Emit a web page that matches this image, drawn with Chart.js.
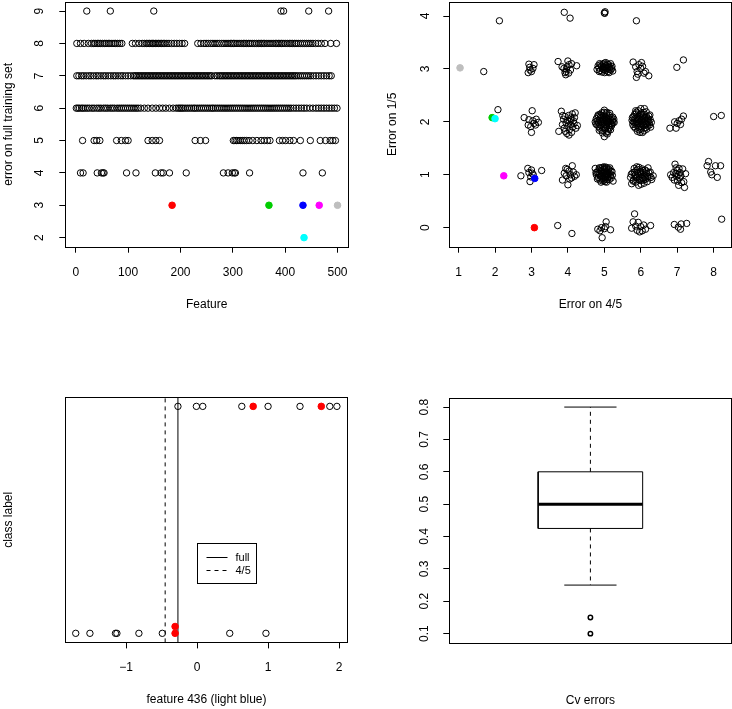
<!DOCTYPE html>
<html>
<head>
<meta charset="utf-8">
<script src="https://cdn.jsdelivr.net/npm/chart.js@4.4.1/dist/chart.umd.min.js"></script>
<style>
  html, body { margin: 0; padding: 0; background: #fff; }
  #wrap { position: relative; width: 732px; height: 709px; }
  canvas { position: absolute; }
</style>
</head>
<body>
<div id="wrap">
  <canvas id="p1" width="366" height="354" style="left:0;top:0"></canvas>
  <canvas id="p2" width="366" height="354" style="left:366px;top:0"></canvas>
  <canvas id="p3" width="366" height="355" style="left:0;top:354px"></canvas>
  <canvas id="p4" width="366" height="355" style="left:366px;top:354px"></canvas>
</div>
<script>
// ---- panel 1: error on full training set, features grouped by error level
const row9 = [21, 66, 149, 392, 397, 445, 483];
const row8 = [2, 9, 16, 24, 30, 34, 37, 41, 44, 47, 51, 55, 58, 62, 65, 69, 73, 76, 80, 84, 88,
  108, 114, 121, 127, 131, 135, 138, 141, 144, 147, 149, 152, 155, 158, 161, 164, 167, 170, 174, 178, 183, 188, 193, 198, 203, 208,
  233, 239, 245, 249, 253, 258, 262, 266, 270, 274, 279, 283, 287, 291, 295, 298, 301, 304, 308, 312, 316, 320, 323, 326, 330,
  333, 337, 341, 345, 349, 352, 355, 358, 361, 365, 369, 373, 377, 381, 384, 387, 390, 393, 396, 400, 404, 408, 411, 414, 418,
  421, 425, 429, 433, 437, 441, 445, 449, 453, 458, 463, 469, 476, 487, 498];
const row7 = [2, 6, 11, 15, 20, 25, 29, 34, 39, 43, 48, 53, 57, 62, 67, 72, 76, 81, 86, 90, 95, 100, 105, 110,
  113, 116, 119, 122, 125, 128, 131, 134, 137, 140, 143, 146, 149, 152, 155, 158, 161, 164, 167, 170, 173, 176, 179, 182,
  185, 188, 191, 194, 197, 200, 203, 206, 209, 212, 215, 218, 221, 224, 227, 230, 233, 236, 239, 242, 245, 248, 251, 254,
  257, 260, 266, 270, 274, 277, 280, 283, 286, 289, 292, 295, 298, 301, 304, 307, 310, 313, 316, 319, 322, 325, 328, 331,
  334, 337, 340, 343, 346, 349, 352, 355, 358, 361, 364, 367, 370, 373, 376, 379, 382, 385, 388, 391, 394, 397, 400, 403,
  406, 409, 412, 415, 418, 421, 425, 429, 433, 437, 441, 445, 449, 454, 459, 464, 469, 474, 479, 484, 488];
const row6 = [1, 4, 7, 11, 14, 18, 22, 26, 31, 35, 40, 44, 48, 53, 57, 61, 66, 70, 74, 79, 83, 87, 91, 95, 99, 103, 107,
  111, 115, 119, 124, 131, 138, 146, 153, 160, 166, 172, 179, 186, 192, 196, 199, 202, 205, 209, 213, 217, 221, 225, 228,
  232, 236, 240, 244, 248, 252, 256, 260, 263, 267, 271, 275, 279, 283, 287, 291, 295, 299, 303, 307, 311, 315, 319, 323,
  327, 331, 335, 339, 343, 347, 351, 355, 359, 363, 367, 371, 375, 379, 383, 387, 391, 395, 399, 403, 407, 411, 416, 421,
  426, 431, 436, 441, 447, 453, 459, 464, 469, 474, 479, 484, 489, 494, 499];
const row5 = [13, 35, 40, 46, 78, 87, 95, 100, 138, 146, 153, 160, 228, 238, 248,
  301, 304, 307, 310, 314, 318, 322, 326, 331, 338, 346, 354, 360, 366, 371, 389, 395, 401, 409, 416, 429, 448, 467, 477, 486, 491, 496];
const row4 = [9, 14, 41, 49, 52, 54, 97, 115, 152, 163, 167, 179, 211, 282, 291, 299, 303, 305, 332, 434, 471];
const errLevels = [9, 8, 7, 6, 5, 4];
const featureRows = [row9, row8, row7, row6, row5, row4];

// highlighted features (filled, coloured)
const hiFeature = [184, 369, 434, 465, 500, 436];
const hiErrFull = [3, 3, 3, 3, 3, 2];
const hiErr45 = [3.08, 1.92, 3.09, 2.24, 1.04, 2.00];
const hiErr15 = [0.00, 2.08, 0.93, 0.98, 3.02, 2.06];
const hiColors = ['#FF0000', '#00CD00', '#0000FF', '#FF00FF', '#BEBEBE', '#00FFFF'];

// ---- panel 2: (error on 4/5, error on 1/5), jittered
const cvPairs = [
  // error 1/5 ~ 4
  [2.12,3.91],[3.90,4.07],[4.06,3.96],[5.00,4.06],[5.02,4.08],[5.01,4.05],[5.88,3.91],
  // ~ 3
  [1.69,2.95],
  [2.93,3.09],[3.07,3.08],[2.96,2.98],[2.91,2.93],[3.00,2.95],[3.04,3.01],[2.95,3.03],
  [3.73,3.14],[4.00,3.15],[4.24,3.06],[3.89,3.01],[3.95,2.95],[3.94,2.89],[4.03,3.08],[4.07,2.98],[3.84,3.04],[3.98,3.04],
  [3.92,2.93],[4.10,3.10],[3.96,3.00],[4.02,2.92],
  [4.80,2.99],[4.85,3.02],[4.88,2.97],[4.92,3.05],[4.95,3.00],[4.97,3.09],[5.00,3.03],[5.02,2.97],[5.04,3.12],[5.06,3.06],
  [5.08,3.01],[5.10,2.95],[5.12,3.08],[5.15,3.03],[5.18,2.98],[5.21,3.05],[5.23,2.96],[5.00,3.11],[4.94,2.94],[5.13,2.93],
  [5.05,3.00],[4.90,3.08],[4.83,3.06],[4.87,3.10],[4.99,2.99],[5.03,3.06],[5.09,3.09],[5.14,2.99],[5.17,3.10],[5.20,3.01],
  [4.96,3.04],[5.11,3.04],[4.86,2.95],[5.01,2.93],
  [5.79,3.13],[6.02,3.12],[5.86,3.04],[6.00,3.01],[5.90,2.95],[5.88,2.84],[6.13,2.95],[6.22,2.87],[6.09,2.92],[5.95,3.08],
  [5.92,2.90],[6.05,3.05],
  [6.99,3.03],[7.17,3.17],
  // ~ 2
  [2.08,2.23],
  [2.80,2.08],[3.02,2.21],[2.93,2.04],[3.13,2.05],[3.19,1.99],[2.98,1.91],[3.00,1.80],[3.07,1.97],[2.91,1.94],[3.11,1.94],[3.04,2.02],
  [3.75,1.82],[3.82,2.20],[3.85,1.95],[3.88,2.05],[3.90,1.88],[3.92,2.10],[3.95,1.98],[3.97,1.78],[3.99,2.03],[4.00,1.92],
  [4.02,2.12],[4.04,1.85],[4.05,2.00],[4.07,1.95],[4.08,2.07],[4.10,1.80],[4.12,2.15],[4.13,1.90],[4.15,2.02],[4.17,1.97],
  [4.20,2.17],[4.22,1.88],[4.26,1.93],[3.93,1.82],[4.03,1.75],[4.18,2.08],[3.86,2.12],[4.09,2.04],
  [4.75,2.00],[4.78,2.06],[4.80,1.94],[4.82,2.10],[4.84,1.98],[4.86,2.03],[4.87,1.88],[4.88,2.14],[4.90,2.00],[4.91,1.93],
  [4.92,2.07],[4.94,1.84],[4.95,2.02],[4.96,1.97],[4.97,2.11],[4.98,1.90],[4.99,2.05],[5.00,1.72],[5.00,2.22],[5.01,1.99],
  [5.02,1.86],[5.03,2.08],[5.04,1.95],[5.05,2.02],[5.06,2.15],[5.07,1.91],[5.08,2.04],[5.09,1.98],[5.10,1.82],[5.11,2.09],
  [5.12,1.96],[5.13,2.01],[5.14,2.12],[5.15,1.89],[5.16,2.05],[5.18,1.97],[5.19,2.08],[5.20,1.93],[5.22,2.02],[5.24,1.99],
  [5.26,2.05],[4.93,2.17],[5.05,1.79],[4.85,1.91],[5.17,1.85],
  [4.77,1.96],[4.81,2.02],[4.83,2.13],[4.89,2.09],[4.93,1.99],[4.95,1.79],[4.97,2.04],[5.00,1.95],[5.02,2.11],[5.04,1.89],
  [5.07,2.18],[5.10,2.00],[5.12,1.86],[5.15,2.16],[5.18,2.02],[5.21,1.96],[5.23,2.09],[4.86,1.84],[5.06,2.06],[4.99,2.18],
  [5.13,1.93],[4.91,2.12],[5.08,1.77],[5.27,1.99],
  [5.76,2.03],[5.78,1.95],[5.80,2.10],[5.82,1.99],[5.84,2.06],[5.85,1.88],[5.87,2.15],[5.88,2.00],[5.89,1.93],[5.90,2.08],
  [5.92,1.97],[5.93,2.21],[5.94,2.03],[5.95,1.85],[5.96,2.12],[5.97,1.99],[5.98,2.06],[6.00,1.92],[6.01,2.02],[6.02,2.17],
  [6.03,1.96],[6.04,2.09],[6.05,1.80],[6.06,2.00],[6.07,2.13],[6.08,1.94],[6.09,2.05],[6.10,2.25],[6.11,1.98],[6.12,2.08],
  [6.13,1.89],[6.14,2.03],[6.15,2.19],[6.17,1.96],[6.18,2.06],[6.20,2.00],[6.22,2.11],[6.24,1.94],[6.26,2.04],[6.29,1.99],
  [5.91,1.82],[6.16,1.86],[5.86,2.21],[6.00,2.25],
  [5.77,2.08],[5.79,2.00],[5.81,1.91],[5.83,2.14],[5.86,1.97],[5.88,2.18],[5.91,2.04],[5.94,1.90],[5.96,2.05],[5.99,2.14],
  [6.01,1.86],[6.03,2.05],[6.06,1.93],[6.08,2.18],[6.11,2.02],[6.13,1.95],[6.16,2.10],[6.19,1.92],[6.21,2.05],[6.23,1.98],
  [6.25,2.13],[6.27,1.90],[5.98,1.80],[6.09,1.83],
  [6.80,1.88],[6.97,1.88],[7.17,2.11],[7.05,2.02],[7.00,1.97],[7.09,1.95],[6.93,2.00],[7.12,2.05],
  [8.00,2.10],[8.21,2.12],
  // ~ 1
  [2.71,0.98],[2.90,1.12],[3.00,1.09],[3.28,1.08],[2.96,0.87],[2.98,0.96],[3.02,1.03],[2.93,1.04],[3.05,1.00],
  [3.85,0.90],[4.00,0.81],[3.94,1.12],[4.12,1.17],[4.23,1.00],[4.07,1.00],[3.95,0.98],[4.03,1.07],[4.10,0.94],[3.90,1.03],
  [4.15,1.05],[3.98,1.10],[4.05,0.92],[4.18,0.97],
  [4.75,1.12],[4.78,1.00],[4.80,1.05],[4.83,0.95],[4.85,1.09],[4.87,1.01],[4.88,0.90],[4.90,1.13],[4.92,0.97],[4.93,1.06],
  [4.95,1.02],[4.96,0.88],[4.97,1.10],[4.98,0.94],[5.00,1.15],[5.00,1.00],[5.01,1.07],[5.02,0.92],[5.03,1.03],[5.04,0.97],
  [5.05,1.11],[5.06,0.86],[5.07,1.01],[5.08,1.05],[5.09,0.95],[5.10,1.09],[5.11,0.99],[5.13,1.04],[5.14,0.91],[5.15,1.13],
  [5.17,1.00],[5.19,0.94],[5.21,1.06],[5.24,0.88],[4.91,0.86],[5.06,1.14],
  [4.77,1.04],[4.81,0.92],[4.84,1.02],[4.86,1.13],[4.89,0.98],[4.91,1.08],[4.94,0.93],[4.97,1.04],[4.99,0.90],[5.01,1.12],
  [5.03,0.96],[5.05,1.06],[5.08,0.91],[5.10,1.02],[5.12,1.11],[5.16,0.97],[5.18,1.07],[5.22,0.99],[4.95,1.14],[5.02,0.87],
  [5.72,0.95],[5.75,0.83],[5.78,1.04],[5.80,0.90],[5.82,1.12],[5.84,0.98],[5.86,0.86],[5.88,1.08],[5.90,0.94],[5.92,1.02],
  [5.94,0.80],[5.95,1.14],[5.97,0.97],[5.99,1.06],[6.00,0.89],[6.02,1.00],[6.04,1.11],[6.05,0.93],[6.07,1.04],[6.09,0.84],
  [6.10,0.99],[6.12,1.09],[6.14,0.92],[6.16,1.02],[6.18,0.87],[6.20,1.13],[6.23,0.97],[6.26,1.05],[6.30,0.91],[6.34,0.98],
  [5.89,1.15],[6.01,0.82],
  [5.74,1.01],[5.79,0.88],[5.83,1.05],[5.87,0.94],[5.91,1.10],[5.96,0.90],[6.00,1.03],[6.03,0.95],[6.06,1.08],[6.11,0.94],
  [6.15,1.07],[6.19,0.96],[6.22,1.04],[6.28,0.95],[5.85,1.00],[6.08,0.90],
  [6.82,1.00],[6.86,0.95],[6.90,1.04],[6.92,0.90],[6.94,1.20],[6.96,1.02],[6.98,0.97],[7.00,1.08],[7.01,0.88],[7.03,1.00],
  [7.05,1.12],[7.06,0.94],[7.08,1.04],[7.10,0.98],[7.12,0.85],[7.15,1.11],[7.18,0.87],[7.20,0.76],[7.23,1.02],[6.97,1.13],[7.04,0.80],
  [7.86,1.25],[7.82,1.17],[8.05,1.17],[8.19,1.17],[7.92,1.05],[8.10,0.95],[7.95,1.00],
  // ~ 0
  [3.72,0.04],[4.11,-0.11],
  [4.82,-0.03],[4.92,0.00],[5.05,0.11],[5.17,-0.04],[4.94,-0.19],[5.03,0.02],[4.88,-0.06],[5.00,-0.02],
  [5.83,0.26],[5.79,0.11],[5.93,0.10],[5.75,-0.01],[6.00,0.02],[6.04,-0.06],[6.27,0.04],[6.13,-0.03],[5.90,-0.05],[5.97,-0.08],
  [6.08,0.05],[5.86,0.03],
  [6.92,0.06],[7.11,0.07],[7.26,0.08],[7.09,-0.03],[7.03,0.01],
  [8.22,0.16]
];

// ---- panel 3: feature 436 by class, with the two cut points
const class1X = [-0.27, -0.01, 0.08, 0.63, 1.00, 1.45, 1.87, 1.97];
const class1RedX = [0.79, 1.75];
const class0X = [-1.71, -1.51, -1.15, -1.13, -0.82, -0.49, 0.46, 0.97];
const class0RedX = [-0.31, -0.31];
const class0RedY = [0, 0.03];
const cutNames = ['full', '4/5'];
const cutValues = [-0.27, -0.45];

// ---- panel 4: CV errors boxplot
const cvStats = [0.25, 0.425, 0.5, 0.6, 0.8];   // lower whisker, Q1, median, Q3, upper whisker
const cvOutliers = [0.15, 0.10];

// tick labels
const xTicks1 = [0, 100, 200, 300, 400, 500];
const yTicks1 = [2, 3, 4, 5, 6, 7, 8, 9];
const xTicks2 = [1, 2, 3, 4, 5, 6, 7, 8];
const yTicks2 = [0, 1, 2, 3, 4];
const xTicks3 = [-1, 0, 1, 2];
const yTicks4 = [0.1, 0.2, 0.3, 0.4, 0.5, 0.6, 0.7, 0.8];

Chart.defaults.font.family = '"Liberation Sans", Arial, Helvetica, sans-serif';
Chart.defaults.font.size = 12;
Chart.defaults.color = '#000';
Chart.defaults.animation = false;
Chart.defaults.plugins.legend.display = false;
Chart.defaults.plugins.tooltip.enabled = false;

const boxPlugin = {
  id: 'rbox',
  afterDraw(chart) {
    const a = chart.chartArea, ctx = chart.ctx;
    ctx.save();
    ctx.strokeStyle = '#000';
    ctx.lineWidth = 1;
    ctx.strokeRect(Math.round(a.left) + 0.5, Math.round(a.top) + 0.5,
      Math.round(a.right - a.left), Math.round(a.bottom - a.top));
    ctx.restore();
  }
};

const minus = v => (v < 0 ? '\u2212' + Math.abs(v) : String(v));

// keep the plot box where the layout padding puts it
function noPad(a) {
  a.paddingTop = 0; a.paddingBottom = 0; a.paddingLeft = 0; a.paddingRight = 0;
}

function xAxis(o) {
  const show = !!o.ticks;
  return {
    type: 'linear', position: 'bottom', min: o.min, max: o.max,
    afterBuildTicks: a => { a.ticks = (o.ticks || []).map(v => ({ value: v })); },
    afterFit: a => { a.height = o.height; noPad(a); },
    ticks: { display: show, autoSkip: false, maxRotation: 0, minRotation: 0, padding: 12.5,
             callback: o.fmt || (v => String(v)) },
    grid: { display: show, drawOnChartArea: false, drawTicks: true, tickLength: 6, color: '#000', lineWidth: 1 },
    border: { display: false },
    title: { display: true, text: o.title, padding: { top: 0, bottom: o.titlePad } }
  };
}

function yAxis(o) {
  const show = !!o.ticks;
  return {
    type: 'linear', position: 'left', min: o.min, max: o.max,
    afterBuildTicks: a => { a.ticks = (o.ticks || []).map(v => ({ value: v })); },
    afterFit: a => { a.width = o.width; noPad(a); },
    ticks: { display: show, autoSkip: false, minRotation: 90, maxRotation: 90, crossAlign: 'center',
             padding: o.tickPad || 0, callback: o.fmt || (v => String(v)) },
    grid: { display: show, drawOnChartArea: false, drawTicks: true, tickLength: 6, color: '#000', lineWidth: 1 },
    border: { display: false },
    title: { display: !!o.title, text: o.title || '', padding: { top: o.titlePad || 0, bottom: 0 } }
  };
}

function openPts(data, r, w) {
  return { data, pointRadius: r || 3.2, pointBackgroundColor: 'rgba(0,0,0,0)',
           pointBorderColor: '#000', pointBorderWidth: w || 1, showLine: false };
}
function filledPts(data, colors) {
  return { data, pointRadius: 3.3, pointBackgroundColor: colors, pointBorderColor: colors,
           pointBorderWidth: 1, showLine: false };
}
function segment(data, width, dash, label) {
  return { label, data, showLine: true, borderColor: '#000', borderWidth: width, borderDash: dash || [],
           pointRadius: 0, fill: false, borderCapStyle: 'butt' };
}

const base = { responsive: false, devicePixelRatio: 1, events: [] };
function pad(top, right) {
  return { autoPadding: false, padding: { left: 0, top, right, bottom: 0 } };
}

// panel 1
const p1Open = featureRows.flatMap((fs, i) => fs.map(f => ({ x: f, y: errLevels[i] })));
const p1Hi = hiFeature.map((f, i) => ({ x: f, y: hiErrFull[i] }));
new Chart(document.getElementById('p1'), {
  type: 'scatter',
  data: { datasets: [filledPts(p1Hi, hiColors), openPts(p1Open)] },
  options: Object.assign({}, base, {
    layout: pad(2, 18),
    scales: {
      x: xAxis({ min: -20, max: 520, ticks: xTicks1, height: 107.3, title: 'Feature', titlePad: 42.6 }),
      y: yAxis({ min: 1.72, max: 9.28, ticks: yTicks1, width: 65.3, tickPad: 16,
                 title: 'error on full training set', titlePad: 1.1 })
    }
  }),
  plugins: [boxPlugin]
});

// panel 2
const p2Open = cvPairs.map(p => ({ x: p[0], y: p[1] }));
const p2Hi = hiErr45.map((v, i) => ({ x: v, y: hiErr15[i] }));
new Chart(document.getElementById('p2'), {
  type: 'scatter',
  data: { datasets: [filledPts(p2Hi, hiColors), openPts(p2Open)] },
  options: Object.assign({}, base, {
    layout: pad(2, 0.5),
    scales: {
      x: xAxis({ min: 0.745, max: 8.49, ticks: xTicks2, height: 107.3, title: 'Error on 4/5', titlePad: 42.6 }),
      y: yAxis({ min: -0.36, max: 4.265, ticks: yTicks2, width: 83.3, tickPad: 14,
                 title: 'Error on 1/5', titlePad: 19.1 })
    }
  }),
  plugins: [boxPlugin]
});

// panel 3
const legendPlugin = {
  id: 'cutLegend',
  afterDraw(chart) {
    const { ctx, scales: { x, y } } = chart;
    const left = Math.round(x.getPixelForValue(0)) + 0.5;
    const top = Math.round(y.getPixelForValue(0.4)) + 0.5;
    const items = chart.data.datasets.filter(d => d.label);
    ctx.save();
    ctx.strokeStyle = '#000';
    ctx.lineWidth = 1;
    ctx.strokeRect(left, top, 59, 40);
    ctx.font = '11px "Liberation Sans", Arial, sans-serif';
    ctx.fillStyle = '#000';
    ctx.textBaseline = 'middle';
    items.forEach((d, i) => {
      const yy = Math.round(top + 13 + i * 13.3) + 0.5;
      ctx.setLineDash(d.borderDash);
      ctx.beginPath();
      ctx.moveTo(left + 9, yy);
      ctx.lineTo(left + 30, yy);
      ctx.stroke();
      ctx.setLineDash([]);
      ctx.fillText(d.label, left + 38, yy);
    });
    ctx.restore();
  }
};
const p3Lines = cutValues.map((v, i) =>
  segment([{ x: v, y: -0.04 }, { x: v, y: 1.04 }], 1, i === 0 ? [] : [4, 4], cutNames[i]));
new Chart(document.getElementById('p3'), {
  type: 'scatter',
  data: { datasets: [
    filledPts(class1RedX.map(v => ({ x: v, y: 1 })), '#FF0000'),
    filledPts(class0RedX.map((v, i) => ({ x: v, y: class0RedY[i] })), '#FF0000'),
    openPts(class1X.map(v => ({ x: v, y: 1 }))),
    openPts(class0X.map(v => ({ x: v, y: 0 }))),
    ...p3Lines
  ] },
  options: Object.assign({}, base, {
    layout: pad(43.3, 18.3),
    scales: {
      x: xAxis({ min: -1.857, max: 2.122, ticks: xTicks3, fmt: minus, height: 66.6,
                 title: 'feature 436 (light blue)', titlePad: 1.8 }),
      y: yAxis({ min: -0.04, max: 1.04, width: 65.3, title: 'class label', titlePad: 1.1 })
    }
  }),
  plugins: [boxPlugin, legendPlugin]
});

// panel 4
const [wLo, q1, med, q3, wHi] = cvStats;
new Chart(document.getElementById('p4'), {
  type: 'scatter',
  data: { datasets: [
    openPts(cvOutliers.map(v => ({ x: 1, y: v })), 2.2, 1.5),
    segment([{ x: 0.8, y: med }, { x: 1.2, y: med }], 3),
    segment([{ x: 0.8, y: q1 }, { x: 1.2, y: q1 }, { x: 1.2, y: q3 }, { x: 0.8, y: q3 }, { x: 0.8, y: q1 }], 1),
    segment([{ x: 1, y: q3 }, { x: 1, y: wHi }], 1, [4, 4]),
    segment([{ x: 1, y: q1 }, { x: 1, y: wLo }], 1, [4, 4]),
    segment([{ x: 0.9, y: wHi }, { x: 1.1, y: wHi }], 1),
    segment([{ x: 0.9, y: wLo }, { x: 1.1, y: wLo }], 1)
  ] },
  options: Object.assign({}, base, {
    layout: pad(44, 0.5),
    scales: {
      x: xAxis({ min: 0.46, max: 1.54, height: 66.3, title: 'Cv errors', titlePad: 1.3 }),
      y: yAxis({ min: 0.072, max: 0.828, ticks: yTicks4, fmt: v => v.toFixed(1), width: 83.3, tickPad: 10.5 })
    }
  }),
  plugins: [boxPlugin]
});
</script>
</body>
</html>
